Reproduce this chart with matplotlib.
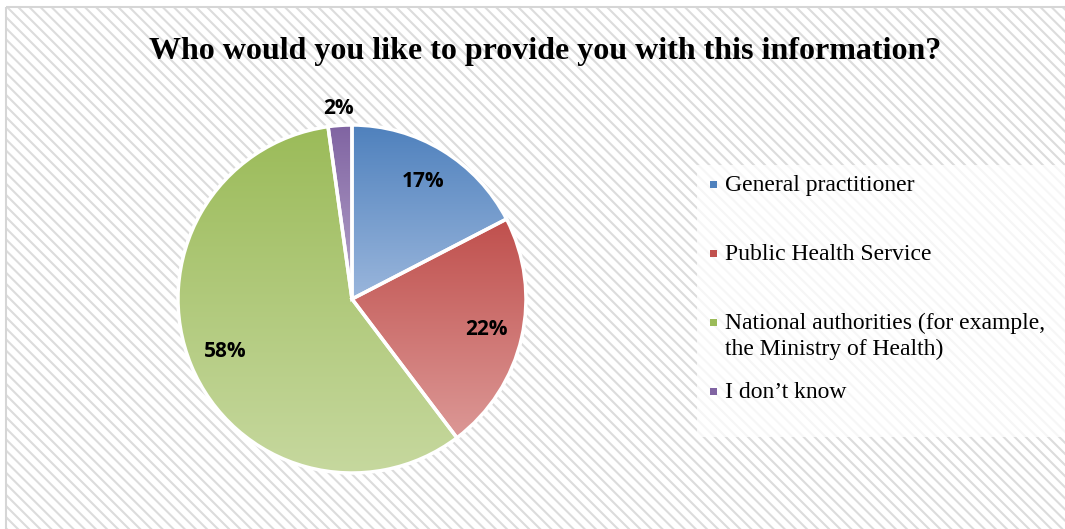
import numpy as np
import matplotlib.pyplot as plt
from matplotlib.patches import Rectangle
from matplotlib.colors import to_rgb

categories = ['General practitioner', 'Public Health Service',
              'National authorities (for example,\nthe Ministry of Health)', 'I don\u2019t know']
shares = [17.4, 22.3, 58.1, 2.2]
pct_labels = ['17%', '22%', '58%', '2%']
# top (dark) and bottom (light) colours of each slice gradient
dark = ['#4f81bd', '#c0504d', '#9bbb59', '#8064a2']
light = ['#9ab6dc', '#dc9896', '#c6d89e', '#b5a4ca']

plt.rcParams['hatch.linewidth'] = 1.5

fig = plt.figure(figsize=(10.65, 5.29), dpi=100)
W, H = 1065, 529

# chart area with diagonal pattern
bg = fig.add_axes([0, 0, 1, 1])
bg.set_xlim(0, W)
bg.set_ylim(H, 0)
bg.axis('off')
bg.add_patch(Rectangle((6, 7), W, H, facecolor='white', edgecolor='#dcdcdc',
                       hatch='\\\\\\', linewidth=0))
bg.add_patch(Rectangle((6, 7), W, H, fill=False, edgecolor='#d6d6d6', linewidth=1.5))

fig.text(545 / W, 1 - 52 / H, 'Who would you like to provide you with this information?',
         ha='center', va='center', family='Liberation Serif', weight='bold', fontsize=23)

# pie
cx, cy, r = 352, 299, 174
box = 185
ax = fig.add_axes([(cx - box) / W, (H - cy - box) / H, 2 * box / W, 2 * box / H])
ax.axis('off')
wedges, texts, autotexts = ax.pie(shares, startangle=90, counterclock=False,
                                   radius=r / box, autopct='%1.0f%%', pctdistance=0.79,
                                   wedgeprops=dict(edgecolor='white', linewidth=2.5))
for i, w in enumerate(wedges):
    w.set_facecolor('none')
    w.set_zorder(3)
    ext = w.get_path().get_extents()
    t = np.linspace(0, 1, 256)[:, None, None]
    grad = (1 - t) * np.array(to_rgb(light[i])) + t * np.array(to_rgb(dark[i]))
    im = ax.imshow(grad, extent=[ext.x0, ext.x1, ext.y0, ext.y1], origin='lower',
                   aspect='auto', zorder=2)
    im.set_clip_path(w)
    at = autotexts[i]
    at.set_text(pct_labels[i])
    at.set_fontsize(15)
    at.set_fontweight('bold')
    at.set_family('Open Sans')
    at.set_zorder(5)
    if shares[i] < 5:
        ang = np.deg2rad((w.theta1 + w.theta2) / 2)
        at.set_position((1.1 * r / box * np.cos(ang), 1.1 * r / box * np.sin(ang)))
ax.set_xlim(-1, 1)
ax.set_ylim(-1, 1)
ax.set_aspect('equal')

# legend
bg.add_patch(Rectangle((697, 165), W, 272, facecolor='white', alpha=0.75, edgecolor='none'))
for i, lab in enumerate(categories):
    y = 184 + i * 69
    bg.add_patch(Rectangle((710, y - 3.5), 7, 7, facecolor=dark[i], edgecolor='none'))
    bg.text(725, y - 9, lab, va='top', family='Liberation Serif', fontsize=17,
            linespacing=1.3)

fig.savefig('out.png', dpi=100)
